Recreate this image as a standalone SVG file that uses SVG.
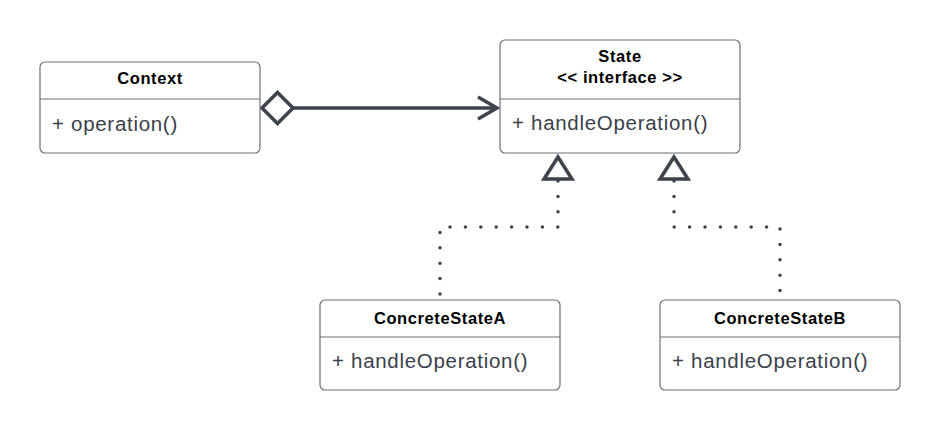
<svg xmlns="http://www.w3.org/2000/svg" width="940" height="431" viewBox="0 0 940 431">
<style>
.box{fill:#ffffff;stroke:#6b7079;stroke-width:1.2}
.div{stroke:#6b7079;stroke-width:1.2}
.title{font-family:"Liberation Sans",Arial,sans-serif;font-weight:bold;font-size:16.5px;letter-spacing:0.6px;fill:#000000;text-anchor:middle}
.member{font-family:"Liberation Sans",Arial,sans-serif;font-size:20.5px;letter-spacing:0.7px;fill:#3a414a}
.conn{fill:none;stroke:#3d434c;stroke-width:3.5}
.dots{fill:none;stroke:#3d434c;stroke-width:3.5;stroke-linecap:round;stroke-dasharray:0 15.4}
.head{fill:#ffffff;stroke:#3d434c;stroke-width:3.5;stroke-linejoin:miter}
</style>
<rect width="940" height="431" fill="#ffffff"/>
<g id="connectors">
  <line class="conn" x1="293" y1="108" x2="497" y2="108"/>
  <polygon class="head" points="262,108 277.5,92.5 293,108 277.5,123.5"/>
  <polyline class="conn" points="478,97 497,108 478,119"/>
  <path class="dots" d="M558,181 L558,227 L440,227 L440,299"/>
  <path class="dots" d="M674,181 L674,227 L780,227 L780,299"/>
  <polygon class="head" points="558,157 544,179 572,179"/>
  <polygon class="head" points="674,157 660,179 688,179"/>
</g>
<g id="context">
  <rect class="box" x="40" y="62" width="220" height="91" rx="5"/>
  <line class="div" x1="40" y1="99" x2="260" y2="99"/>
  <text class="title" x="150" y="84">Context</text>
  <text class="member" x="52" y="131">+ operation()</text>
</g>
<g id="state">
  <rect class="box" x="500" y="40" width="240" height="113" rx="5"/>
  <line class="div" x1="500" y1="99" x2="740" y2="99"/>
  <text class="title" x="620" y="62">State</text>
  <text class="title" x="620" y="83">&lt;&lt; interface &gt;&gt;</text>
  <text class="member" x="512" y="130">+ handleOperation()</text>
</g>
<g id="concreteStateA">
  <rect class="box" x="320" y="300" width="240" height="90" rx="5"/>
  <line class="div" x1="320" y1="337" x2="560" y2="337"/>
  <text class="title" x="440" y="324">ConcreteStateA</text>
  <text class="member" x="332" y="368">+ handleOperation()</text>
</g>
<g id="concreteStateB">
  <rect class="box" x="660" y="300" width="240" height="90" rx="5"/>
  <line class="div" x1="660" y1="337" x2="900" y2="337"/>
  <text class="title" x="780" y="324">ConcreteStateB</text>
  <text class="member" x="672" y="368">+ handleOperation()</text>
</g>
</svg>
